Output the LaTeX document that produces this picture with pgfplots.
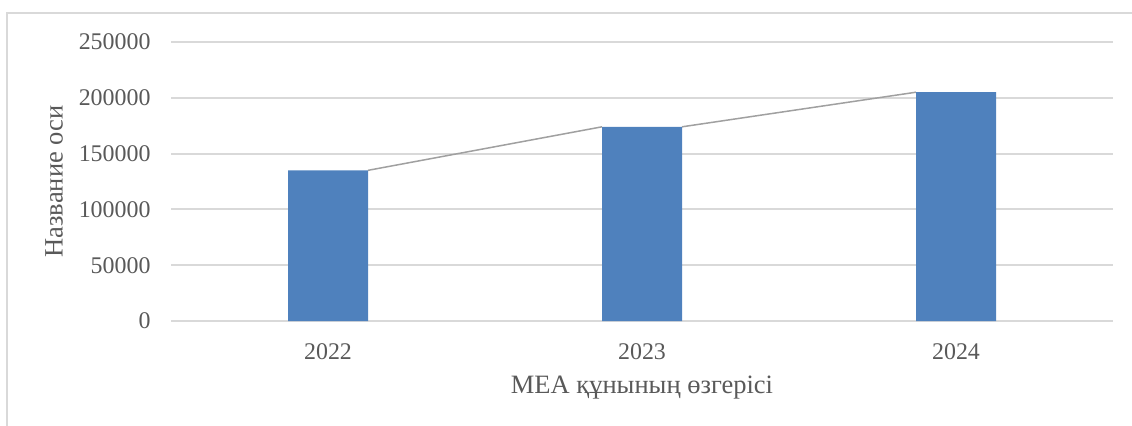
\documentclass[border=0pt]{standalone}
\usepackage{fontspec}
\setmainfont{Liberation Serif}
\usepackage{pgfplots}
\pgfplotsset{compat=1.18}
\definecolor{barblue}{HTML}{4F81BD}
\definecolor{gridgray}{HTML}{D9D9D9}
\definecolor{txtgray}{HTML}{595959}
\definecolor{linegray}{HTML}{A0A0A0}
\begin{document}
\begin{tikzpicture}
\useasboundingbox (0bp,0bp) rectangle (566bp,213bp);
\draw[gridgray, line width=1bp] (3.5bp,0bp) -- (3.5bp,206.5bp) -- (566bp,206.5bp);
\begin{axis}[
  at={(85.5bp,52.5bp)}, anchor=south west,
  scale only axis, width=471bp, height=139.5bp,
  xmin=-0.5, xmax=2.5, ymin=0, ymax=250000,
  axis lines=left, axis line style={-},
  x axis line style={draw=gridgray, line width=1bp},
  y axis line style={draw=none},
  tick style={draw=none},
  xtick={0,1,2}, xticklabels={2022,2023,2024},
  ytick={0,50000,100000,150000,200000,250000},
  yticklabels={0,50000,100000,150000,200000,250000},
  scaled y ticks=false,
  ymajorgrids, grid style={gridgray, line width=1bp},
  tick label style={font=\fontsize{12}{14}\selectfont, text=txtgray},
  yticklabel style={xshift=-4.6bp},
  xticklabel style={yshift=-5.5bp},
  label style={font=\fontsize{13.3}{15}\selectfont, text=txtgray},
  xlabel={МЕА құнының өзгерісі},
  ylabel={Название оси},
  xlabel style={at={(axis description cs:0.5,-0.24)}, anchor=center},
  ylabel style={at={(axis description cs:-0.124,0.5)}, anchor=center, rotate=0},
  clip=false,
]
\addplot[linegray, line width=0.75bp, mark=none] coordinates {(0.1274,135000) (0.8726,174000)};
\addplot[linegray, line width=0.75bp, mark=none] coordinates {(1.1274,174000) (1.8726,205000)};
\addplot[ybar, bar width=40bp, fill=barblue, draw=none] coordinates {(0,135000) (1,174000) (2,205000)};
\end{axis}
\end{tikzpicture}
\end{document}
